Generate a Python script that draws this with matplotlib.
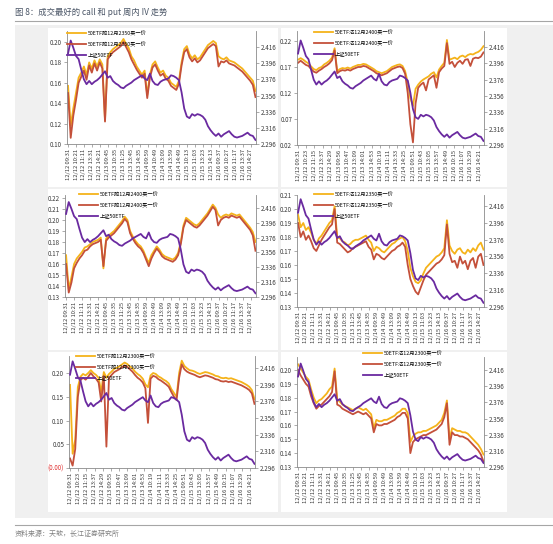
import numpy as np
import matplotlib
matplotlib.use('Agg')
import matplotlib.pyplot as plt
from matplotlib.patches import Rectangle
from matplotlib.lines import Line2D

plt.rcParams['font.family'] = ['Noto Sans CJK SC', 'DejaVu Sans']

W, H = 553, 544

# x axis labels (trading minutes, one every ~50 min)
labels_a = ['12/12 09:31', '12/12 10:21', '12/12 11:11', '12/12 13:31', '12/12 14:21',
            '12/13 09:45', '12/13 10:35', '12/13 11:25', '12/13 13:45', '12/13 14:35',
            '12/14 09:59', '12/14 10:49', '12/14 13:09', '12/14 13:59', '12/14 14:49',
            '12/15 10:13', '12/15 11:03', '12/15 13:23', '12/15 14:13',
            '12/16 09:37', '12/16 10:27', '12/16 11:17', '12/16 13:37', '12/16 14:27']
labels_b = ['12/12 09:31', '12/12 10:23', '12/12 11:15', '12/12 13:37', '12/12 14:29',
            '12/13 09:56', '12/13 10:47', '12/13 13:09', '12/13 14:01', '12/13 14:53',
            '12/14 10:19', '12/14 11:11', '12/14 13:33', '12/14 14:25',
            '12/15 09:51', '12/15 10:43', '12/15 13:05', '12/15 13:57', '12/15 14:49',
            '12/16 10:15', '12/16 11:07', '12/16 13:29', '12/16 14:21']
labels_c = ['12/12 09:31', '12/12 10:23', '12/12 11:15', '12/12 13:37', '12/12 14:29',
            '12/13 09:55', '12/13 10:47', '12/13 13:09', '12/13 14:01', '12/13 14:53',
            '12/14 10:19', '12/14 11:11', '12/14 13:33', '12/14 14:25',
            '12/15 09:51', '12/15 10:43', '12/15 13:05', '12/15 13:57', '12/15 14:49',
            '12/16 10:15', '12/16 11:07', '12/16 13:29', '12/16 14:21']

# 上证50ETF price (right axis), same series in every panel
etf50 = [2.408, 2.424, 2.415, 2.405, 2.401, 2.388, 2.376, 2.370, 2.374, 2.370,
         2.373, 2.375, 2.378, 2.382, 2.386, 2.378, 2.380, 2.374, 2.371, 2.369,
         2.366, 2.365, 2.368, 2.370, 2.372, 2.375, 2.377, 2.379, 2.381, 2.377,
         2.375, 2.383, 2.374, 2.370, 2.369, 2.373, 2.375, 2.376, 2.377, 2.381,
         2.380, 2.378, 2.375, 2.360, 2.340, 2.330, 2.328, 2.333, 2.331, 2.333,
         2.332, 2.330, 2.326, 2.318, 2.313, 2.309, 2.306, 2.309, 2.305, 2.308,
         2.310, 2.312, 2.308, 2.305, 2.304, 2.305, 2.306, 2.308, 2.310, 2.307,
         2.306, 2.301]

# IV of the options, ask (卖一价) and bid (买一价)
call2350_ask = [0.157, 0.118, 0.135, 0.150, 0.165, 0.170, 0.176, 0.168, 0.180, 0.174,
                0.182, 0.176, 0.183, 0.178, 0.123, 0.186, 0.190, 0.193, 0.195, 0.197,
                0.199, 0.203, 0.198, 0.194, 0.186, 0.182, 0.176, 0.172, 0.168, 0.172,
                0.148, 0.168, 0.178, 0.181, 0.175, 0.170, 0.172, 0.167, 0.165, 0.160,
                0.158, 0.156, 0.162, 0.180, 0.193, 0.196, 0.188, 0.184, 0.187, 0.183,
                0.185, 0.189, 0.193, 0.197, 0.199, 0.201, 0.199, 0.186, 0.184, 0.183,
                0.185, 0.182, 0.181, 0.180, 0.178, 0.176, 0.174, 0.171, 0.168, 0.165,
                0.162, 0.152]
call2350_bid = [0.150, 0.106, 0.128, 0.143, 0.160, 0.166, 0.172, 0.163, 0.177, 0.170,
                0.179, 0.172, 0.180, 0.174, 0.122, 0.183, 0.187, 0.190, 0.192, 0.194,
                0.196, 0.200, 0.195, 0.190, 0.183, 0.178, 0.173, 0.169, 0.165, 0.169,
                0.145, 0.165, 0.175, 0.178, 0.172, 0.167, 0.169, 0.164, 0.162, 0.157,
                0.155, 0.153, 0.159, 0.177, 0.190, 0.193, 0.185, 0.181, 0.184, 0.180,
                0.182, 0.186, 0.190, 0.194, 0.196, 0.198, 0.196, 0.176, 0.181, 0.180,
                0.182, 0.179, 0.178, 0.177, 0.175, 0.173, 0.171, 0.168, 0.165, 0.162,
                0.158, 0.146]

put2400_ask = [0.184, 0.187, 0.184, 0.180, 0.177, 0.171, 0.166, 0.164, 0.168, 0.170,
               0.175, 0.178, 0.182, 0.188, 0.206, 0.162, 0.166, 0.168, 0.167, 0.169,
               0.167, 0.170, 0.172, 0.174, 0.174, 0.176, 0.175, 0.172, 0.169, 0.166,
               0.162, 0.160, 0.158, 0.160, 0.162, 0.166, 0.170, 0.172, 0.174, 0.175,
               0.172, 0.162, 0.140, 0.110, 0.095, 0.128, 0.136, 0.142, 0.146, 0.149,
               0.152, 0.157, 0.160, 0.150, 0.165, 0.172, 0.178, 0.222, 0.184, 0.186,
               0.188, 0.185, 0.190, 0.192, 0.189, 0.193, 0.195, 0.194, 0.197, 0.199,
               0.203, 0.210]
put2400_bid = [0.178, 0.182, 0.178, 0.174, 0.172, 0.166, 0.161, 0.159, 0.163, 0.166,
               0.170, 0.173, 0.177, 0.183, 0.202, 0.158, 0.162, 0.164, 0.163, 0.165,
               0.163, 0.166, 0.168, 0.170, 0.170, 0.172, 0.171, 0.168, 0.165, 0.162,
               0.158, 0.156, 0.154, 0.156, 0.158, 0.162, 0.166, 0.168, 0.170, 0.171,
               0.168, 0.157, 0.120, 0.060, 0.025, 0.100, 0.130, 0.136, 0.140, 0.125,
               0.146, 0.150, 0.154, 0.130, 0.160, 0.167, 0.172, 0.216, 0.176, 0.180,
               0.170, 0.178, 0.182, 0.176, 0.184, 0.185, 0.172, 0.186, 0.188, 0.187,
               0.190, 0.198]

call2400_ask = [0.168, 0.137, 0.148, 0.160, 0.165, 0.168, 0.171, 0.175, 0.176, 0.178,
                0.180, 0.181, 0.182, 0.184, 0.156, 0.183, 0.186, 0.188, 0.190, 0.193,
                0.196, 0.199, 0.203, 0.200, 0.190, 0.185, 0.181, 0.178, 0.176, 0.172,
                0.166, 0.161, 0.168, 0.172, 0.176, 0.173, 0.169, 0.167, 0.166, 0.165,
                0.164, 0.166, 0.170, 0.180, 0.195, 0.202, 0.200, 0.198, 0.196, 0.195,
                0.197, 0.200, 0.203, 0.206, 0.210, 0.214, 0.211, 0.205, 0.202, 0.204,
                0.205, 0.204, 0.206, 0.205, 0.204, 0.205, 0.202, 0.199, 0.196, 0.193,
                0.189, 0.180]
call2400_bid = [0.160, 0.134, 0.143, 0.156, 0.161, 0.165, 0.168, 0.172, 0.173, 0.176,
                0.178, 0.179, 0.180, 0.182, 0.158, 0.181, 0.184, 0.186, 0.188, 0.191,
                0.194, 0.197, 0.201, 0.198, 0.188, 0.183, 0.179, 0.176, 0.174, 0.170,
                0.164, 0.158, 0.165, 0.170, 0.174, 0.171, 0.167, 0.165, 0.164, 0.163,
                0.162, 0.164, 0.168, 0.178, 0.193, 0.200, 0.198, 0.196, 0.194, 0.193,
                0.195, 0.198, 0.201, 0.204, 0.208, 0.212, 0.209, 0.195, 0.200, 0.202,
                0.203, 0.202, 0.204, 0.203, 0.202, 0.203, 0.200, 0.197, 0.194, 0.191,
                0.186, 0.172]

put2350_ask = [0.196, 0.187, 0.190, 0.185, 0.187, 0.183, 0.178, 0.175, 0.179, 0.181,
               0.184, 0.187, 0.190, 0.192, 0.202, 0.180, 0.179, 0.177, 0.176, 0.174,
               0.175, 0.177, 0.178, 0.178, 0.179, 0.180, 0.181, 0.178, 0.176, 0.170,
               0.173, 0.172, 0.170, 0.169, 0.171, 0.173, 0.175, 0.176, 0.178, 0.179,
               0.180, 0.177, 0.170, 0.158, 0.152, 0.148, 0.147, 0.149, 0.154, 0.158,
               0.160, 0.162, 0.164, 0.166, 0.167, 0.169, 0.172, 0.192, 0.174, 0.170,
               0.168, 0.171, 0.172, 0.169, 0.168, 0.171, 0.169, 0.172, 0.170, 0.174,
               0.176, 0.171]
put2350_bid = [0.190, 0.180, 0.184, 0.178, 0.181, 0.177, 0.172, 0.170, 0.174, 0.178,
               0.181, 0.184, 0.187, 0.189, 0.200, 0.176, 0.175, 0.173, 0.171, 0.169,
               0.170, 0.172, 0.173, 0.174, 0.175, 0.176, 0.177, 0.173, 0.171, 0.164,
               0.168, 0.167, 0.165, 0.164, 0.166, 0.168, 0.170, 0.171, 0.173, 0.174,
               0.176, 0.173, 0.160, 0.150, 0.145, 0.141, 0.139, 0.144, 0.149, 0.153,
               0.155, 0.157, 0.159, 0.161, 0.162, 0.164, 0.167, 0.189, 0.168, 0.162,
               0.163, 0.158, 0.166, 0.161, 0.163, 0.157, 0.163, 0.165, 0.158, 0.166,
               0.168, 0.160]

call2300_ask = [0.175, 0.030, 0.060, 0.170, 0.192, 0.198, 0.195, 0.200, 0.206, 0.200,
                0.196, 0.190, 0.160, 0.202, 0.190, 0.198, 0.203, 0.209, 0.211, 0.214,
                0.218, 0.222, 0.219, 0.214, 0.210, 0.203, 0.198, 0.194, 0.188, 0.176,
                0.170, 0.195, 0.200, 0.198, 0.193, 0.190, 0.186, 0.183, 0.178, 0.166,
                0.158, 0.150, 0.200, 0.226, 0.215, 0.210, 0.206, 0.205, 0.203, 0.200,
                0.198, 0.200, 0.202, 0.201, 0.199, 0.197, 0.194, 0.193, 0.190, 0.189,
                0.190, 0.188, 0.189, 0.187, 0.185, 0.183, 0.181, 0.178, 0.175, 0.171,
                0.164, 0.145]
call2300_bid = [0.020, 0.005, 0.040, 0.150, 0.185, 0.190, 0.186, 0.192, 0.200, 0.193,
                0.188, 0.180, 0.140, 0.194, 0.045, 0.190, 0.196, 0.202, 0.205, 0.208,
                0.212, 0.216, 0.213, 0.208, 0.203, 0.196, 0.190, 0.186, 0.180, 0.168,
                0.095, 0.188, 0.194, 0.192, 0.187, 0.184, 0.180, 0.176, 0.171, 0.160,
                0.150, 0.143, 0.190, 0.218, 0.208, 0.203, 0.200, 0.198, 0.196, 0.193,
                0.191, 0.193, 0.195, 0.194, 0.192, 0.190, 0.187, 0.186, 0.183, 0.182,
                0.183, 0.181, 0.182, 0.180, 0.178, 0.176, 0.174, 0.171, 0.168, 0.164,
                0.157, 0.135]

put2300_ask = [0.204, 0.201, 0.198, 0.195, 0.193, 0.186, 0.180, 0.176, 0.178, 0.179,
               0.181, 0.183, 0.186, 0.188, 0.201, 0.179, 0.177, 0.175, 0.174, 0.173,
               0.172, 0.171, 0.172, 0.173, 0.172, 0.171, 0.172, 0.170, 0.168, 0.158,
               0.164, 0.163, 0.163, 0.164, 0.164, 0.165, 0.166, 0.167, 0.169, 0.170,
               0.172, 0.172, 0.169, 0.148, 0.152, 0.154, 0.155, 0.155, 0.156, 0.156,
               0.157, 0.158, 0.159, 0.160, 0.162, 0.164, 0.169, 0.178, 0.150, 0.158,
               0.157, 0.156, 0.156, 0.155, 0.155, 0.154, 0.152, 0.150, 0.148, 0.146,
               0.143, 0.139]
put2300_bid = [0.200, 0.196, 0.193, 0.190, 0.188, 0.181, 0.176, 0.172, 0.174, 0.175,
               0.177, 0.179, 0.181, 0.184, 0.199, 0.175, 0.174, 0.172, 0.171, 0.170,
               0.169, 0.168, 0.169, 0.170, 0.169, 0.168, 0.169, 0.167, 0.165, 0.155,
               0.161, 0.160, 0.160, 0.161, 0.161, 0.162, 0.163, 0.164, 0.166, 0.167,
               0.169, 0.169, 0.165, 0.140, 0.148, 0.150, 0.151, 0.152, 0.153, 0.153,
               0.154, 0.155, 0.156, 0.157, 0.159, 0.161, 0.166, 0.176, 0.146, 0.155,
               0.153, 0.153, 0.152, 0.152, 0.151, 0.150, 0.148, 0.146, 0.144, 0.142,
               0.139, 0.134]

right_ticks = [2.296, 2.316, 2.336, 2.356, 2.376, 2.396, 2.416]

ORANGE = '#f5b31a'
RED = '#c4503a'
PURPLE = '#6a2aa0'
AXC = '#8a8a8a'
TXT = '#3a3a3a'

# (axes box in px: left, right, top, bottom), white box px, ask, bid, 购/沽, strike,
# left ylim, left ticks, right ylim, x labels, legend anchor px
panels = [
    ((67, 256, 31, 144), (48, 28, 278, 187), call2350_ask, call2350_bid, '购', '2350',
     (0.10, 0.2108), [0.10, 0.12, 0.14, 0.16, 0.18, 0.20], (2.296, 2.4358), labels_a, (67, 31)),
    ((297, 484, 31, 145), (281, 28, 507, 187), put2400_ask, put2400_bid, '沽', '2400',
     (0.02, 0.2392), [0.02, 0.07, 0.12, 0.17, 0.22], (2.296, 2.4356), labels_b, (314, 30)),
    ((65, 256, 195, 297), (48, 189, 278, 350), call2400_ask, call2400_bid, '购', '2400',
     (0.13, 0.2227), [0.13, 0.14, 0.15, 0.16, 0.17, 0.18, 0.19, 0.20, 0.21, 0.22],
     (2.296, 2.4335), labels_a, (79, 192)),
    ((297, 484, 195, 307), (281, 189, 507, 350), put2350_ask, put2350_bid, '沽', '2350',
     (0.13, 0.2100), [0.13, 0.14, 0.15, 0.16, 0.17, 0.18, 0.19, 0.20, 0.21],
     (2.296, 2.4290), labels_a, (314, 192)),
    ((69, 255, 356, 468), (48, 352, 278, 512), call2300_ask, call2300_bid, '购', '2300',
     (0.00, 0.2358), [0.00, 0.05, 0.10, 0.15, 0.20], (2.296, 2.4304), labels_c, (76, 354)),
    ((297, 484, 357, 467), (281, 352, 507, 512), put2300_ask, put2300_bid, '沽', '2300',
     (0.13, 0.2093), [0.13, 0.14, 0.15, 0.16, 0.17, 0.18, 0.19, 0.20],
     (2.296, 2.4321), labels_a, (363, 351)),
]

fig = plt.figure(figsize=(W / 100, H / 100), dpi=100)
fig.patch.set_facecolor('white')

# light grey backdrop behind the six chart boxes
fig.add_artist(Rectangle((15 / W, 1 - 518 / H), (W - 15) / W, (518 - 25) / H,
                         transform=fig.transFigure, facecolor='#f0f0f0', edgecolor='none', zorder=-20))

for (box, wbox, ask, bid, kind, strike, lylim, lticks, rylim, xlabels, leg) in panels:
    l, r, t, b = box
    wl, wt, wr, wb = wbox
    fig.add_artist(Rectangle((wl / W, 1 - wb / H), (wr - wl) / W, (wb - wt) / H,
                             transform=fig.transFigure, facecolor='white', edgecolor='none', zorder=-10))
    ax = fig.add_axes([l / W, 1 - b / H, (r - l) / W, (b - t) / H])
    ax.set_facecolor('none')
    x = np.arange(len(ask))
    h1, = ax.plot(x, ask, color=ORANGE, lw=1.3)
    h2, = ax.plot(x, bid, color=RED, lw=1.3)
    ax2 = ax.twinx()
    h3, = ax2.plot(np.arange(len(etf50)), etf50, color=PURPLE, lw=1.3)

    ax.set_xlim(-0.4, len(ask) - 0.8)
    ax.set_ylim(*lylim)
    ax2.set_ylim(*rylim)
    ticks = np.linspace(0, 69.3, len(xlabels))
    ax.set_xticks(ticks)
    ax.set_xticklabels(xlabels, rotation=90)
    ax.set_yticks(lticks)
    if lticks[0] == 0.0:
        ax.set_yticklabels(['(0.00)'] + ['%.2f' % v for v in lticks[1:]])
    else:
        ax.set_yticklabels(['%.2f' % v for v in lticks])
    ax2.set_yticks(right_ticks)
    ax2.set_yticklabels(['%.3f' % v for v in right_ticks])

    for a in (ax, ax2):
        a.tick_params(axis='y', direction='out', length=2, width=0.5, color=AXC,
                      labelsize=4.5, labelcolor=TXT, pad=1.5)
        a.tick_params(axis='x', direction='out', length=2, width=0.5, color=AXC,
                      labelsize=4.2, labelcolor=TXT, pad=1.5)
        a.spines['top'].set_visible(False)
        for s in ('left', 'right', 'bottom'):
            a.spines[s].set_color(AXC)
            a.spines[s].set_linewidth(0.6)
    ax.spines['right'].set_visible(False)
    ax2.spines['left'].set_visible(False)
    ax2.spines['bottom'].set_visible(False)
    if lticks[0] == 0.0:
        ax.get_yticklabels()[0].set_color('#e03030')

    names = ['50ETF%s12月%s卖一价' % (kind, strike), '50ETF%s12月%s买一价' % (kind, strike), '上证50ETF']
    ax2.legend([h1, h2, h3], names, loc='upper left',
               bbox_to_anchor=(leg[0] / W, 1 - leg[1] / H), bbox_transform=fig.transFigure,
               frameon=False, fontsize=3.8, handlelength=3.6, handletextpad=0.4,
               labelspacing=1.0, borderpad=0, borderaxespad=0)

fig.text(15 / W, 1 - 12 / H, '图 8：成交最好的 call 和 put 周内 IV 走势', fontsize=6,
         color='#4a5566', va='center', ha='left')
fig.add_artist(Line2D([15 / W, 1], [1 - 21 / H, 1 - 21 / H], transform=fig.transFigure,
                      color='#a6a6a6', lw=0.8))
fig.add_artist(Line2D([15 / W, 1], [1 - 525 / H, 1 - 525 / H], transform=fig.transFigure,
                      color='#a6a6a6', lw=0.8))
fig.text(15 / W, 1 - 534 / H, '资料来源：天软，长江证券研究所', fontsize=5,
         color='#808080', va='center', ha='left')

fig.savefig('out.png', dpi=100)
